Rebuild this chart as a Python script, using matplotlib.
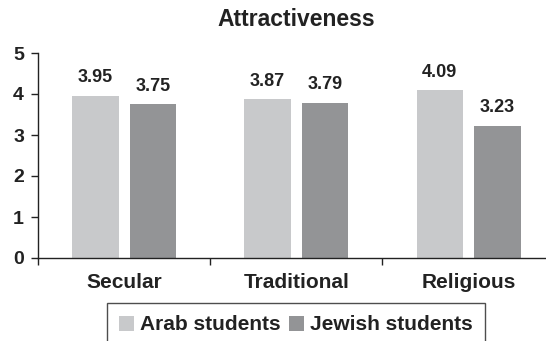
import matplotlib.pyplot as plt
import numpy as np
from matplotlib.ticker import FixedLocator

plt.rcParams['font.family'] = ['Liberation Sans', 'DejaVu Sans']
plt.rcParams['font.weight'] = 'bold'

# group means per school type
categories = ['Secular', 'Traditional', 'Religious']
arab = [3.95, 3.87, 4.09]
jewish = [3.75, 3.79, 3.23]
series_names = ['Arab students', 'Jewish students']

light = '#c8c9cb'
dark = '#939496'
ink = '#222222'

fig = plt.figure(figsize=(5.46, 3.41), dpi=100)
ax = fig.add_axes([38 / 546, 83 / 341, 508 / 546, 205 / 341])

x = np.arange(len(categories))
w = 0.27
off = 0.167
b1 = ax.bar(x - off, arab, w, color=light, label=series_names[0])
b2 = ax.bar(x + off, jewish, w, color=dark, label=series_names[1])

for bars, vals in ((b1, arab), (b2, jewish)):
    for rect, v in zip(bars, vals):
        ax.annotate(f'{v:.2f}', (rect.get_x() + rect.get_width() / 2, v),
                    xytext=(0, 7), textcoords='offset points',
                    ha='center', va='bottom', fontsize=13,
                    fontweight='bold', color=ink)

ax.set_xlim(-0.5, 2.45)
ax.set_ylim(0, 5)
ax.set_yticks(range(6))
ax.set_xticks(x)
ax.set_xticklabels(categories, fontsize=15, fontweight='bold', color=ink)
ax.xaxis.set_minor_locator(FixedLocator([-0.5, 0.5, 1.5, 2.5]))
ax.tick_params(axis='x', which='major', length=0, pad=11)
ax.tick_params(axis='x', which='minor', length=5, width=1, direction='out', color=ink)
ax.tick_params(axis='y', length=5, width=1, labelsize=14, pad=5, color=ink, labelcolor=ink)
for lbl in ax.get_yticklabels():
    lbl.set_fontweight('bold')

for s in ('top', 'right'):
    ax.spines[s].set_visible(False)
for s in ('left', 'bottom'):
    ax.spines[s].set_linewidth(1)
    ax.spines[s].set_color(ink)

fig.text(296 / 546, 1 - 19 / 341, 'Attractiveness', ha='center', va='center',
         fontsize=16.5, fontweight='bold', color=ink)

leg = fig.legend(loc='upper center', bbox_to_anchor=(296 / 546, 1 - 303 / 341),
                 ncol=2, frameon=True, fancybox=False, fontsize=15,
                 handlelength=0.7, handleheight=0.7, handletextpad=0.3,
                 columnspacing=0.4, borderpad=0.6, borderaxespad=0)
leg.get_frame().set_edgecolor(ink)
leg.get_frame().set_linewidth(1)
for t in leg.get_texts():
    t.set_color(ink)

fig.savefig('out.png', dpi=100)
